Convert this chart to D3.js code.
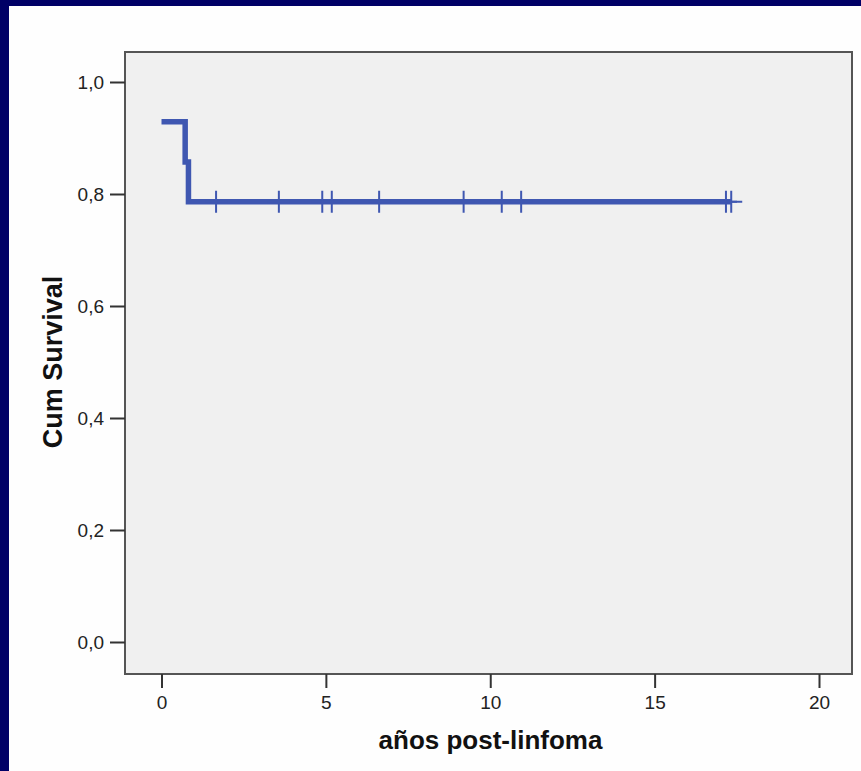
<!DOCTYPE html>
<html>
<head>
<meta charset="utf-8">
<script src="https://cdn.jsdelivr.net/npm/d3@7"></script>
<style>
	body { margin: 0; background: #000066; }
	svg { display: block; }
	.tickLabel { font-family: "Liberation Sans", Arial, sans-serif; font-size: 19px; fill: #222; }
	.axisTitle { font-family: "Liberation Sans", Arial, sans-serif; font-weight: bold; fill: #111; }
</style>
</head>
<body>
<div id="graphic"></div>
<script>
// Kaplan-Meier steps: time (años) and cumulative survival after that time
const stepTimes = [0, 0.72, 0.82];
const stepSurvival = [0.929, 0.857, 0.786];
// censored observations (time)
const censorTimes = [1.66, 3.57, 4.89, 5.18, 6.62, 9.19, 10.35, 10.94, 17.17, 17.33];
const xTicks = [0, 5, 10, 15, 20];
const yTicks = [0, 0.2, 0.4, 0.6, 0.8, 1.0];

const W = 861, H = 771;
const plot = { left: 125, right: 852, top: 52, bottom: 674 };
const lineColour = '#3f57b1';

let svg = d3.select('#graphic').append('svg')
	.attr('width', W)
	.attr('height', H);

// navy frame on top and left, white card
svg.append('rect').attr('width', W).attr('height', H).attr('fill', '#000066');
svg.append('rect').attr('x', 9).attr('y', 6).attr('width', W - 9).attr('height', H - 6).attr('fill', '#fefefe');

const x = d3.scaleLinear().domain([0, 20]).range([161.5, 819]);
const y = d3.scaleLinear().domain([0, 1]).range([642, 82]);

// plot area
svg.append('rect')
	.attr('x', plot.left)
	.attr('y', plot.top)
	.attr('width', plot.right - plot.left)
	.attr('height', plot.bottom - plot.top)
	.attr('fill', '#f0f0f0')
	.attr('stroke', '#555')
	.attr('stroke-width', 2);

// y axis
let yAxis = svg.append('g')
	.attr('transform', `translate(${plot.left},0)`)
	.call(d3.axisLeft(y).tickValues(yTicks).tickSize(15).tickPadding(6)
		.tickFormat((d) => d3.format('.1f')(d).replace('.', ',')));
yAxis.select('.domain').remove();
yAxis.selectAll('.tick line').attr('stroke', '#333').attr('stroke-width', 2);
yAxis.selectAll('.tick text').attr('class', 'tickLabel').attr('dy', '0.36em').style('font-size', null).style('font-family', null);

// x axis
let xAxis = svg.append('g')
	.attr('transform', `translate(0,${plot.bottom})`)
	.call(d3.axisBottom(x).tickValues(xTicks).tickSize(14).tickPadding(8));
xAxis.select('.domain').remove();
xAxis.selectAll('.tick line').attr('stroke', '#333').attr('stroke-width', 2);
xAxis.selectAll('.tick text').attr('class', 'tickLabel').attr('dy', '0.71em');
xAxis.attr('font-size', null).attr('font-family', null);
yAxis.attr('font-size', null).attr('font-family', null);

// survival step line, ends at last censored time
const lastTime = d3.max(censorTimes);
const lineData = stepTimes.map((t, i) => ({ t: t, s: stepSurvival[i] }))
	.concat([{ t: lastTime, s: stepSurvival[stepSurvival.length - 1] }]);

svg.append('path')
	.datum(lineData)
	.attr('fill', 'none')
	.attr('stroke', lineColour)
	.attr('stroke-width', 5.5)
	.attr('stroke-linejoin', 'miter')
	.attr('d', d3.line().x((d) => x(d.t)).y((d) => y(d.s)).curve(d3.curveStepAfter));

// censor marks (+)
function survivalAt(t) {
	let s = stepSurvival[0];
	stepTimes.forEach((st, i) => { if (t >= st) s = stepSurvival[i]; });
	return s;
}
svg.append('g')
	.selectAll('path')
	.data(censorTimes)
	.join('path')
	.attr('transform', (d) => `translate(${x(d)},${y(survivalAt(d))})`)
	.attr('d', 'M0,-11V11M-11,0H11')
	.attr('stroke', lineColour)
	.attr('stroke-width', 2)
	.attr('fill', 'none');

// axis titles
svg.append('text')
	.attr('class', 'axisTitle')
	.attr('x', (plot.left + plot.right) / 2 + 2)
	.attr('y', 749)
	.attr('text-anchor', 'middle')
	.style('font-size', '26px')
	.text('años post-linfoma');

svg.append('text')
	.attr('class', 'axisTitle')
	.attr('transform', `translate(62,${(plot.top + plot.bottom) / 2 - 1}) rotate(-90)`)
	.attr('text-anchor', 'middle')
	.style('font-size', '27px')
	.text('Cum Survival');
</script>
</body>
</html>
